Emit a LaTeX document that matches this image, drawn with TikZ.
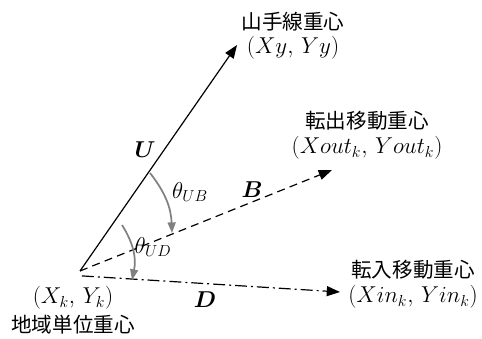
\documentclass[tikz,border=0pt]{standalone}
\usepackage{amsmath}
\usepackage{bm}
\usepackage{fontspec}
\newfontfamily\jpfont{Noto Sans CJK JP}
\usetikzlibrary{arrows.meta,positioning}

\begin{document}
\begin{tikzpicture}[>={Triangle[length=10pt,width=7.5pt]},
    vec/.style={line width=0.9pt,->},
    ang/.style={gray,line width=1.3pt,-{Triangle[length=8pt,width=6pt]}},
    jp/.style={font=\jpfont\fontsize{15.5}{18}\selectfont,inner sep=1pt},
    xylab/.style={font=\fontsize{17}{20}\selectfont,inner sep=1pt},
    lab/.style={font=\fontsize{17}{20}\selectfont,inner sep=1pt}]
        \useasboundingbox (-2.117,-1.799) rectangle (10.636,7.170);
        % 重心の位置
        \coordinate (O) at (0,0);
        \coordinate (Ds) at (0.05,-0.13);
        \coordinate (Ut) at (4.154,5.980);
        \coordinate (Bt) at (6.668,2.672);
        \coordinate (Dt) at (6.880,-0.556);
        % ベクトル
        \draw [vec] (O) -- (Ut);
        \draw [vec,dashed,dash pattern=on 6pt off 4pt] (O) -- (Bt);
        \draw [vec,dash pattern=on 9pt off 3pt on 1.5pt off 3pt] (Ds) -- (Dt);
        % 角度
        \coordinate (a1) at (1.852,2.593);
        \coordinate (a2) at (2.434,1.005);
        \coordinate (a3) at (1.111,1.217);
        \coordinate (a4) at (1.376,-0.238);
        \draw [ang] (a1) to[bend left=18] (a2);
        \draw [ang] (a3) to[bend left=22] (a4);
        \node [lab] (tUB) at (2.911,2.090) {$\theta_{UB}$};
        \node [lab] (tUD) at (1.932,0.635) {$\theta_{UD}$};
        % ベクトル名
        \node [lab] (U) at (1.720,3.202) {$\bm{U}$};
        \node [lab] (B) at (4.551,2.143) {$\bm{B}$};
        \node [lab] (D) at (3.308,-0.767) {$\bm{D}$};
        % 座標と名前
        \node [xylab] (pY) at (5.636,5.900) {$(Xy,\,Yy)$};
        \node [jp,above=2pt of pY] (nY) {山手線重心};
        \node [xylab] (pO) at (7.594,3.254) {$(Xout_k,\,Yout_k)$};
        \node [jp,above=2pt of pO] (nO) {転出移動重心};
        \node [xylab] (pI) at (8.811,-0.688) {$(Xin_k,\,Yin_k)$};
        \node [jp,above=2pt of pI] (nI) {転入移動重心};
        \node [xylab] (pK) at (-0.185,-0.714) {$(X_k,\,Y_k)$};
        \node [jp,below=2pt of pK] (nK) {地域単位重心};
    \end{tikzpicture}
\end{document}
